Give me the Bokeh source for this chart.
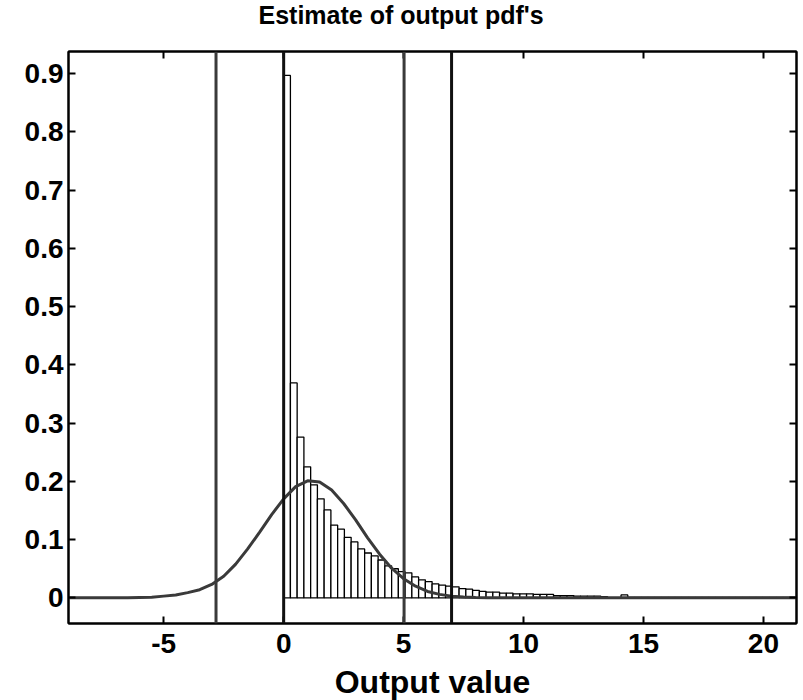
from bokeh.plotting import figure
from bokeh.models import LinearAxis, FixedTicker, Span, Range1d, ColumnDataSource, CustomLabelingPolicy
from bokeh.embed import file_html
from bokeh.resources import INLINE

# ---- data ----
bin_width = 0.2813
hist_heights = [0.897, 0.369, 0.276, 0.225, 0.194, 0.170, 0.151, 0.125, 0.118, 0.104,
                0.096, 0.084, 0.077, 0.072, 0.065, 0.055, 0.050, 0.045, 0.043, 0.036,
                0.031, 0.028, 0.024, 0.022, 0.020, 0.019, 0.016, 0.015, 0.013, 0.011,
                0.010, 0.010, 0.008, 0.008, 0.007, 0.007, 0.007, 0.006, 0.006, 0.006,
                0.004, 0.004, 0.004, 0.003, 0.003, 0.003, 0.003, 0.002, 0.000, 0.000,
                0.005, 0.001, 0.001, 0.001, 0.001, 0.001, 0.001, 0.001, 0.001, 0.001,
                0.001, 0.001, 0.001, 0.001, 0.001, 0.001, 0.001, 0.001, 0.001, 0.001,
                0.001, 0.001, 0.001, 0.001, 0.001, 0.001]

curve_x = [-8.97, -8.5, -8.0, -7.5, -7.0, -6.5, -6.0, -5.5, -5.0, -4.5, -4.0, -3.5, -3.0,
           -2.5, -2.0, -1.5, -1.0, -0.5, 0.0, 0.5, 1.0, 1.5, 2.0, 2.5, 3.0, 3.5, 4.0,
           4.5, 5.0, 5.5, 6.0, 6.5, 7.0, 7.5, 8.0, 8.5, 9.0, 12.0, 16.0, 21.38]
curve_y = [0.0, 0.0, 0.0, 0.0, 0.0, 0.0, 0.0005, 0.001, 0.003, 0.005, 0.009, 0.014, 0.023,
           0.037, 0.058, 0.084, 0.113, 0.143, 0.170, 0.191, 0.201, 0.199, 0.185, 0.162,
           0.134, 0.103, 0.075, 0.051, 0.033, 0.020, 0.011, 0.006, 0.003, 0.0015, 0.0007,
           0.0003, 0.0, 0.0, 0.0, 0.0]

gray_lines = [-2.82, 5.02]
black_lines = [0.0, 7.0]

x_ticks = [-5, 0, 5, 10, 15, 20]
x_labels = ["-5", "0", "5", "10", "15", "20"]
y_ticks = [0, 0.1, 0.2, 0.3, 0.4, 0.5, 0.6, 0.7, 0.8, 0.9]
y_labels = ["0", "0.1", "0.2", "0.3", "0.4", "0.5", "0.6", "0.7", "0.8", "0.9"]

FONT = "Liberation Sans"
GRAY = "#3a3a3a"

p = figure(frame_width=728, frame_height=572,
           x_range=Range1d(-8.97, 21.38), y_range=Range1d(-0.044, 0.938),
           output_backend="svg", toolbar_location=None,
           min_border_left=68, min_border_right=0, min_border_top=51, min_border_bottom=77,
           title="Estimate of output pdf's")
p.grid.visible = False
p.outline_line_color = "black"
p.outline_line_width = 2
p.background_fill_color = "white"
p.border_fill_color = "white"

p.title.align = "left"
p.title.offset = 190
p.title.vertical_align = "top"
p.title.standoff = 0
p.title.text_font = FONT
p.title.text_font_style = "bold"
p.title.text_font_size = "25px"
p.title.text_color = "black"

hide_all = CustomLabelingPolicy(code="""
for (const i of Array.from(indices)) { indices.unset(i) }
return indices
""")

def style_axis(ax, show_labels, standoff=6):
    ax.axis_line_width = 2
    ax.axis_line_color = "black"
    ax.major_tick_in = 7
    ax.major_tick_out = 0
    ax.major_tick_line_width = 2
    ax.major_tick_line_color = "black"
    ax.minor_tick_line_color = None
    ax.major_label_text_font = FONT
    ax.major_label_text_font_style = "bold"
    ax.major_label_text_color = "black"
    if show_labels:
        ax.major_label_text_font_size = "28px"
        ax.major_label_standoff = standoff
    else:
        ax.major_label_text_font_size = "1px"
        ax.major_label_standoff = standoff
        ax.major_label_policy = hide_all

p.xaxis.ticker = FixedTicker(ticks=x_ticks)
p.yaxis.ticker = FixedTicker(ticks=y_ticks)
p.xaxis.major_label_overrides = {t: l for t, l in zip(x_ticks, x_labels)}
p.yaxis.major_label_overrides = {t: l for t, l in zip(y_ticks, y_labels)}
style_axis(p.xaxis[0], True, 10)
style_axis(p.yaxis[0], True, 5)
p.xaxis.axis_label = "Output value"
p.xaxis.axis_label_text_font = FONT
p.xaxis.axis_label_text_font_style = "bold"
p.xaxis.axis_label_text_font_size = "32px"
p.xaxis.axis_label_text_color = "black"
p.xaxis.axis_label_standoff = 8

top_ax = LinearAxis(ticker=FixedTicker(ticks=x_ticks))
style_axis(top_ax, False, 17)
p.add_layout(top_ax, "above")
right_ax = LinearAxis(ticker=FixedTicker(ticks=y_ticks))
style_axis(right_ax, False, 0)
p.add_layout(right_ax, "right")

lefts = [i * bin_width for i in range(len(hist_heights))]
rights = [(i + 1) * bin_width for i in range(len(hist_heights))]
src = ColumnDataSource(dict(left=lefts, right=rights, top=hist_heights,
                            bottom=[0.0] * len(hist_heights)))
p.quad(left="left", right="right", top="top", bottom="bottom", source=src,
       fill_color="white", line_color="black", line_width=1.3)

for xv in black_lines:
    p.add_layout(Span(location=xv, dimension="height", line_color="#111111", line_width=3))
for xv in gray_lines:
    p.add_layout(Span(location=xv, dimension="height", line_color=GRAY, line_width=3))

p.line(curve_x, curve_y, line_color=GRAY, line_width=3)

open("out.html", "w").write(file_html(p, INLINE))
